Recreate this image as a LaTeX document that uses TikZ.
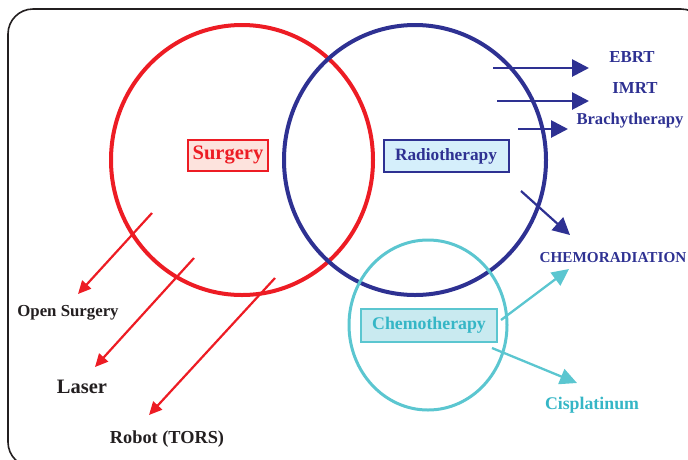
\documentclass[tikz,border=0pt]{standalone}
\usepackage{fontspec}
\setmainfont{Liberation Serif}
\usetikzlibrary{arrows.meta}
\definecolor{cred}{HTML}{ED1C24}
\definecolor{cblue}{HTML}{2E3192}
\definecolor{ccyan}{HTML}{5BC6D0}
\definecolor{ctxtcyan}{HTML}{35B6C6}
\definecolor{cpink}{HTML}{FDE3DD}
\definecolor{clblue}{HTML}{D5EFFB}
\definecolor{clcyan}{HTML}{C9EAF0}
\definecolor{cdark}{HTML}{231F20}
\tikzset{
  lbl/.style={font=\bfseries, inner sep=0pt},
  boxlbl/.style={font=\bfseries, draw, line width=2pt, inner sep=0pt},
  redarr/.style={cred, line width=2.2pt, -{Triangle[length=13pt,width=12pt]}},
  bluearr/.style={cblue, line width=2.8pt, -{Triangle[length=17pt,width=17pt]}},
  cyanarr/.style={ccyan, line width=2.3pt, -{Triangle[length=17pt,width=16pt]}},
}
\begin{document}
\begin{tikzpicture}[x=1pt,y=-1pt]
\useasboundingbox (0,0) rectangle (688,459);
\clip (0,0) rectangle (688,459);
% frame
\draw[cdark, line width=1.6pt, rounded corners=25pt] (8,9) rectangle (706,467);
% circles
\draw[cred, line width=4pt] (242,160) ellipse [x radius=131, y radius=135];
\draw[cblue, line width=4pt] (415,160) ellipse [x radius=131, y radius=135];
\draw[ccyan, line width=3pt] (428,325) ellipse [x radius=79, y radius=85];
% boxes
\node[boxlbl, draw=cred, fill=cpink, text=cred, minimum width=80pt, minimum height=31pt, font=\bfseries\fontsize{20.5}{21}\selectfont] (surg) at (228,155) {Surgery};
\node[boxlbl, draw=cblue, fill=clblue, text=cblue, minimum width=125pt, minimum height=32pt, font=\bfseries\fontsize{17.3}{18}\selectfont] (radio) at (446,156) {Radiotherapy};
\node[boxlbl, draw=ccyan, fill=clcyan, text=ctxtcyan, minimum width=136pt, minimum height=33pt, font=\bfseries\fontsize{17.8}{18}\selectfont] (chemo) at (429,325) {Chemotherapy};
% right labels
\node[lbl, text=cblue, font=\bfseries\fontsize{16.8}{18}\selectfont] (ebrt) at (632,57) {EBRT};
\node[lbl, text=cblue, font=\bfseries\fontsize{16.8}{18}\selectfont] (imrt) at (635,88) {IMRT};
\node[lbl, text=cblue, font=\bfseries\fontsize{16.6}{18}\selectfont] (brachy) at (630,121) {Brachytherapy};
\node[lbl, text=cblue, font=\bfseries\fontsize{15.2}{16}\selectfont] (chemorad) at (613,258) {CHEMORADIATION};
\node[lbl, text=ctxtcyan, font=\bfseries\fontsize{17.8}{18}\selectfont] (cispl) at (592,405) {Cisplatinum};
% left labels
\node[lbl, text=cdark, font=\bfseries\fontsize{16.8}{18}\selectfont] (open) at (68,313) {Open Surgery};
\node[lbl, text=cdark, font=\bfseries\fontsize{20.5}{22}\selectfont] (laser) at (82,387) {Laser};
\node[lbl, text=cdark, font=\bfseries\fontsize{18.3}{20}\selectfont] (robot) at (167,439) {Robot (TORS)};
% arrow endpoints
\coordinate (e1) at (493,68);   \coordinate (e2) at (589,68);
\coordinate (i1) at (497,101);  \coordinate (i2) at (589,101);
\coordinate (b1) at (518,129);  \coordinate (b2) at (568,129);
\coordinate (c1) at (521,191);  \coordinate (c2) at (570,235);
\coordinate (k1) at (501,320);  \coordinate (k2) at (569,269);
\coordinate (p1) at (492,348);  \coordinate (p2) at (577,383);
\coordinate (r1) at (152,213);  \coordinate (r2) at (78,294);
\coordinate (s1) at (194,258);  \coordinate (s2) at (95,367);
\coordinate (t1) at (275,278);  \coordinate (t2) at (149,415);
% arrows
\draw[bluearr] (e1) -- (e2);
\draw[bluearr] (i1) -- (i2);
\draw[bluearr] (b1) -- (b2);
\draw[bluearr, line width=2.2pt] (c1) -- (c2);
\draw[cyanarr] (k1) -- (k2);
\draw[cyanarr] (p1) -- (p2);
\draw[redarr] (r1) -- (r2);
\draw[redarr] (s1) -- (s2);
\draw[redarr] (t1) -- (t2);
\end{tikzpicture}
\end{document}
